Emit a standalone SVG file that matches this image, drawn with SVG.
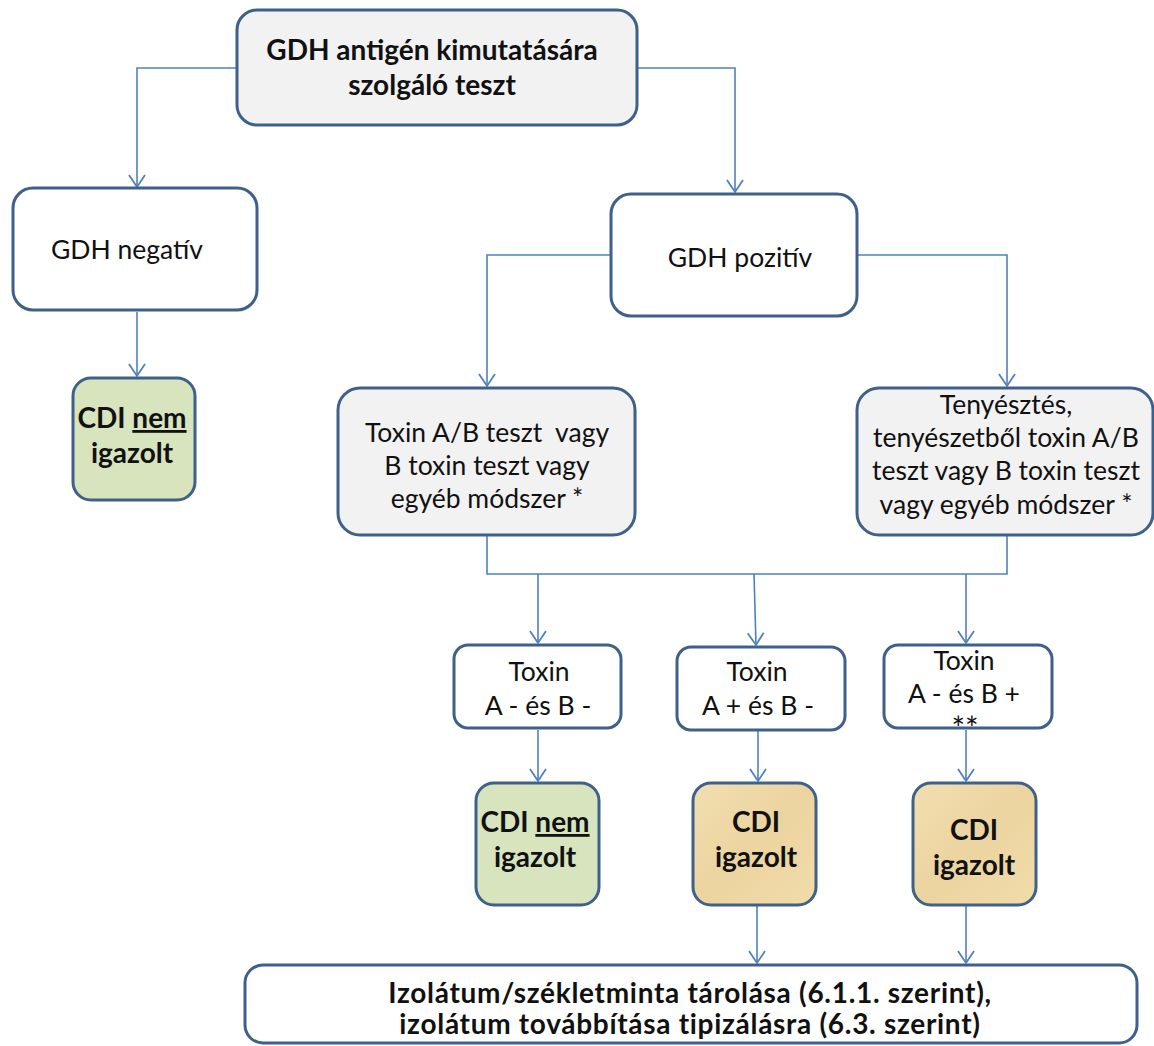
<svg xmlns="http://www.w3.org/2000/svg" width="1154" height="1046" viewBox="0 0 1154 1046">
<style>
.box{stroke:#3f6189;stroke-width:3;}
.white{fill:#ffffff;}
.grey{fill:#f2f2f2;}
.green{fill:#d7e4bd;}
.tan{fill:url(#tanGrad);}
.conn{fill:none;stroke:#4f81bd;stroke-width:1.6;}
text{font-family:Lato,"Liberation Sans",sans-serif;fill:#111;text-anchor:middle;}
.reg{font-size:26.5px;}
.bold{font-size:28px;font-weight:bold;}
.pre{white-space:pre;}
.foot{font-size:28px;font-weight:bold;letter-spacing:0.7px;}
</style>
<defs>
<linearGradient id="tanGrad" x1="0" y1="0" x2="1" y2="1">
<stop offset="0" stop-color="#f2deb0"/>
<stop offset="0.5" stop-color="#ecd4a0"/>
<stop offset="1" stop-color="#f1dcaa"/>
</linearGradient>
<marker id="arr" markerUnits="userSpaceOnUse" markerWidth="20" markerHeight="20" viewBox="0 0 20 20" refX="14" refY="10" orient="auto">
<path d="M2,2 L14,10 L2,18" fill="none" stroke="#4f81bd" stroke-width="1.8"/>
</marker>
</defs>

<g id="connectors">
<polyline class="conn" points="237,68 137,68 137,187" marker-end="url(#arr)"/>
<polyline class="conn" points="638,68 735,68 735,192" marker-end="url(#arr)"/>
<line class="conn" x1="137" y1="312" x2="137" y2="376" marker-end="url(#arr)"/>
<polyline class="conn" points="611,255 487,255 487,386" marker-end="url(#arr)"/>
<polyline class="conn" points="857,255 1007,255 1007,386" marker-end="url(#arr)"/>
<polyline class="conn" points="487,536 487,574 1007,574 1007,536"/>
<line class="conn" x1="538" y1="574" x2="538" y2="643" marker-end="url(#arr)"/>
<line class="conn" x1="754" y1="574" x2="756" y2="645" marker-end="url(#arr)"/>
<line class="conn" x1="966" y1="574" x2="966" y2="643" marker-end="url(#arr)"/>
<line class="conn" x1="538" y1="730" x2="538" y2="781" marker-end="url(#arr)"/>
<line class="conn" x1="758" y1="731" x2="758" y2="781" marker-end="url(#arr)"/>
<line class="conn" x1="966" y1="730" x2="966" y2="781" marker-end="url(#arr)"/>
<line class="conn" x1="757" y1="906" x2="757" y2="963" marker-end="url(#arr)"/>
<line class="conn" x1="966" y1="906" x2="966" y2="963" marker-end="url(#arr)"/>
</g>

<g id="gdh-test">
<rect class="box grey" x="237" y="10" width="400" height="115" rx="20"/>
<text class="bold" x="432" y="60">GDH antigén kimutatására</text>
<text class="bold" x="432" y="95">szolgáló teszt</text>
</g>

<g id="gdh-negativ">
<rect class="box white" x="13" y="188" width="244" height="122" rx="20"/>
<text class="reg" x="127" y="259">GDH negatív</text>
</g>

<g id="cdi-nem-1">
<rect class="box green" x="73" y="378" width="122" height="122" rx="18"/>
<text class="bold" x="132" y="428">CDI <tspan text-decoration="underline">nem</tspan></text>
<text class="bold" x="132" y="463">igazolt</text>
</g>

<g id="gdh-pozitiv">
<rect class="box white" x="611" y="194" width="246" height="122" rx="20"/>
<text class="reg" x="740" y="267">GDH pozitív</text>
</g>

<g id="toxin-teszt">
<rect class="box grey" x="338" y="388" width="297" height="147" rx="22"/>
<text class="reg pre" x="487" y="442">Toxin A/B teszt  vagy</text>
<text class="reg" x="487" y="475">B toxin teszt vagy</text>
<text class="reg" x="487" y="508">egyéb módszer *</text>
</g>

<g id="tenyesztes">
<rect class="box grey" x="857" y="388" width="296" height="147" rx="22"/>
<text class="reg" x="1006" y="414">Tenyésztés,</text>
<text class="reg" x="1006" y="447">tenyészetből toxin A/B</text>
<text class="reg" x="1006" y="480">teszt vagy B toxin teszt</text>
<text class="reg" x="1006" y="514">vagy egyéb módszer *</text>
</g>

<g id="toxin-neg-neg">
<rect class="box white" x="454" y="645" width="167" height="83" rx="14"/>
<text class="reg" x="539" y="681">Toxin</text>
<text class="reg" x="538" y="715">A - és B -</text>
</g>

<g id="toxin-pos-neg">
<rect class="box white" x="677" y="647" width="168" height="83" rx="14"/>
<text class="reg" x="757" y="681">Toxin</text>
<text class="reg" x="758" y="715">A + és B -</text>
</g>

<g id="toxin-neg-pos">
<rect class="box white" x="884" y="645" width="168" height="83" rx="14"/>
<text class="reg" x="964" y="670">Toxin</text>
<text class="reg" x="964" y="703">A - és B +</text>
<text class="reg" x="965" y="740" style="font-size:32px">**</text>
</g>

<g id="cdi-nem-2">
<rect class="box green" x="476" y="783" width="123" height="122" rx="18"/>
<text class="bold" x="535" y="832">CDI <tspan text-decoration="underline">nem</tspan></text>
<text class="bold" x="535" y="867">igazolt</text>
</g>

<g id="cdi-igazolt-1">
<rect class="box tan" x="693" y="783" width="123" height="122" rx="18"/>
<text class="bold" x="756" y="832">CDI</text>
<text class="bold" x="756" y="867">igazolt</text>
</g>

<g id="cdi-igazolt-2">
<rect class="box tan" x="913" y="783" width="123" height="122" rx="18"/>
<text class="bold" x="974" y="840">CDI</text>
<text class="bold" x="974" y="875">igazolt</text>
</g>

<g id="izolatum">
<rect class="box white" x="245" y="965" width="892" height="78" rx="18"/>
<text class="foot" x="690" y="1003">Izolátum/székletminta tárolása (6.1.1. szerint),</text>
<text class="foot" x="690" y="1034">izolátum továbbítása tipizálásra (6.3. szerint)</text>
</g>
</svg>
